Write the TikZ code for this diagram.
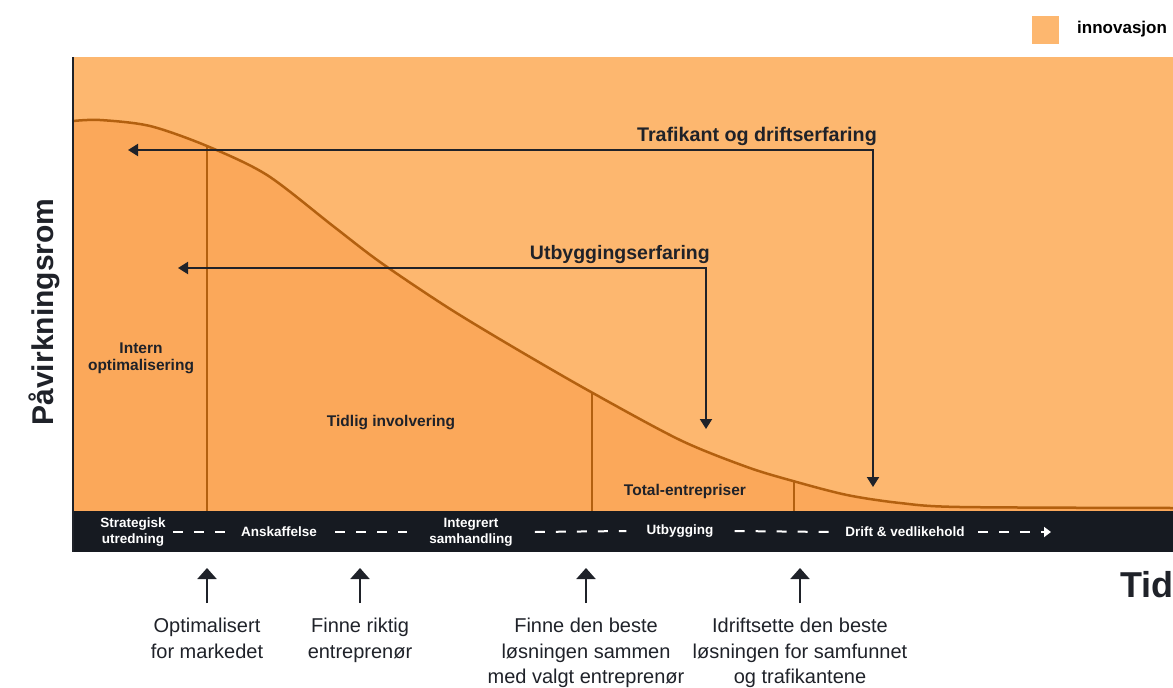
\documentclass[tikz,border=0pt]{standalone}
\usepackage{fontspec}
\setmainfont{Liberation Sans}
\usetikzlibrary{arrows.meta}

\definecolor{lightorange}{HTML}{FDB76F}
\definecolor{darkorange}{HTML}{FBA85A}
\definecolor{curvebrown}{HTML}{B3600F}
\definecolor{barblack}{HTML}{161A21}
\definecolor{inkblack}{HTML}{1F2229}

\tikzset{
  phase/.style={font=\bfseries\fontsize{15.5}{17}\selectfont,text=inkblack,align=center,inner sep=0pt},
  barlabel/.style={font=\bfseries\fontsize{13.5}{16}\selectfont,text=white,align=center,inner sep=0pt},
  goal/.style={font=\fontsize{20}{25.5}\selectfont,text=inkblack,align=center,inner sep=2pt},
  feedback/.style={draw=inkblack,line width=2pt,{Triangle[width=12pt,length=10pt]}-{Triangle[width=12pt,length=10pt]}},
  uparrow/.style={draw=inkblack,line width=2pt,-{Triangle[width=19pt,length=11pt]}},
  divider/.style={draw=curvebrown,line width=1.5pt},
  gapline/.style={draw=white,line width=2pt,dash pattern=on 10pt off 11pt}
}

\begin{document}
\begin{tikzpicture}[x=1pt,y=-1pt]
\useasboundingbox (0,0) rectangle (1173,688);

\fill[lightorange] (73,57) rectangle (1173,511);
\fill[darkorange] plot[smooth,tension=0.5] coordinates {(73,121) (100,120) (150,126) (207,146) (267,175) (333,226) (380,262) (447,307) (513,347) (591,392) (680,440) (747,467) (793,481) (847,495) (900,503) (960,507) (1173,508)} -- (1173,511) -- (73,511) -- cycle;

\coordinate (topA) at (207,146);
\coordinate (topB) at (592,392);
\coordinate (topC) at (794,481);
\coordinate (footA) at (207,511);
\coordinate (footB) at (592,511);
\coordinate (footC) at (794,511);
\path[divider] (topA) -- (footA);
\path[divider] (topB) -- (footB);
\path[divider] (topC) -- (footC);

\draw[curvebrown,line width=2.5pt] plot[smooth,tension=0.5] coordinates {(73,121) (100,120) (150,126) (207,146) (267,175) (333,226) (380,262) (447,307) (513,347) (591,392) (680,440) (747,467) (793,481) (847,495) (900,503) (960,507) (1173,508)};

\fill[barblack] (73,511) rectangle (1173,552);
\coordinate (axistop) at (73,57);
\coordinate (axisfoot) at (73,552);
\path[draw,inkblack,line width=2pt] (axistop) -- (axisfoot);

\node[phase] (intern) at (141,358) {Intern\\optimalisering};
\node[phase] (tidlig) at (391,423) {Tidlig involvering};
\node[phase] (total) at (685,491) {Total-entrepriser};

\node[barlabel] (strategisk) at (133,532) {Strategisk\\utredning};
\node[barlabel] (anskaffelse) at (279,532) {Anskaffelse};
\node[barlabel] (integrert) at (471,532) {Integrert\\samhandling};
\node[barlabel] (utbygging) at (680,531) {Utbygging};
\node[barlabel] (drift) at (905,532) {Drift \& vedlikehold};
\coordinate (driftend) at (1051,532);
\path[gapline] ([xshift=7pt]strategisk.east) -- ([xshift=-15pt]anskaffelse.west);
\path[gapline] ([xshift=18pt]anskaffelse.east) -- ([xshift=-22pt]integrert.west);
\path[gapline] ([xshift=22pt]integrert.east) -- ([xshift=-20pt]utbygging.west);
\path[gapline] ([xshift=21pt]utbygging.east) -- ([xshift=-15pt]drift.west);
\path[gapline,-{Triangle[width=10pt,length=7pt]}] ([xshift=13pt]drift.east) -- (driftend);

\coordinate (trafleft) at (128,150);
\coordinate (trafcorner) at (873,150);
\coordinate (trafdown) at (873,487);
\path[feedback] (trafleft) -- (trafcorner) -- (trafdown);
\node[anchor=base east,font=\bfseries\fontsize{19.7}{22}\selectfont,text=inkblack,inner sep=0pt] (trafikant) at (877,141) {Trafikant og driftserfaring};

\coordinate (utbleft) at (178,268);
\coordinate (utbcorner) at (706,268);
\coordinate (utbdown) at (706,429);
\path[feedback] (utbleft) -- (utbcorner) -- (utbdown);
\node[anchor=base east,font=\bfseries\fontsize{19.5}{22}\selectfont,text=inkblack,inner sep=0pt] (utbyggingserfaring) at (710,259) {Utbyggingserfaring};

\node[goal,anchor=north] (optimalisert) at (207,616) {Optimalisert\\for markedet};
\node[goal,anchor=north] (riktig) at (360,616) {Finne riktig\\entreprenør};
\node[goal,anchor=north] (beste) at (586,616) {Finne den beste\\løsningen sammen\\med valgt entreprenør};
\node[goal,anchor=north] (idrift) at (800,616) {Idriftsette den beste\\løsningen for samfunnet\\og trafikantene};
\coordinate (tipA) at (207,568);
\coordinate (tipB) at (360,568);
\coordinate (tipC) at (586,568);
\coordinate (tipD) at (800,568);
\path[uparrow] ([yshift=13pt]optimalisert.north) -- (tipA);
\path[uparrow] ([yshift=13pt]riktig.north) -- (tipB);
\path[uparrow] ([yshift=13pt]beste.north) -- (tipC);
\path[uparrow] ([yshift=13pt]idrift.north) -- (tipD);

\node[rotate=90,font=\bfseries\fontsize{30}{34}\selectfont,text=inkblack,inner sep=0pt] (pavirkning) at (44,312) {Påvirkningsrom};
\node[anchor=base west,font=\bfseries\fontsize{36}{40}\selectfont,text=inkblack,inner sep=0pt] (tid) at (1120,597) {Tid};

\node[fill=lightorange,minimum width=27pt,minimum height=28pt,inner sep=0pt] (legendkey) at (1045.5,30) {};
\node[anchor=west,font=\bfseries\fontsize{17}{20}\selectfont,text=black,inner sep=0pt] (legendtext) at (1077,29) {innovasjon};
\end{tikzpicture}
\end{document}
